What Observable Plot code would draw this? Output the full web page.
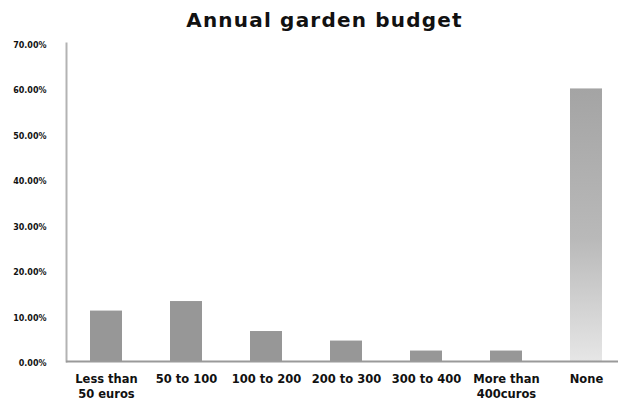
<!DOCTYPE html>
<html>
<head>
<meta charset="utf-8">
<script src="https://cdn.jsdelivr.net/npm/d3@7"></script>
<script src="https://cdn.jsdelivr.net/npm/@observablehq/plot@0.6"></script>
<style>
  html, body { margin: 0; padding: 0; background: #fff; }
  #chart { width: 618px; height: 403px; position: relative; }
  #title {
    height: 30px; line-height: 40px; padding-left: 31px; text-align: center;
    font-family: "DejaVu Sans", sans-serif; font-weight: bold; font-size: 20px;
    letter-spacing: 1.2px; color: #111;
  }
  #chart svg { overflow: visible; }
</style>
</head>
<body>
<div id="chart">
  <div id="title">Annual garden budget</div>
</div>
<script>
// Spending brackets and the share of respondents (%) in each
const categories = ["Less than\n50 euros", "50 to 100", "100 to 200", "200 to 300", "300 to 400", "More than\n400curos", "None"];
const shares = [11.1, 13.2, 6.6, 4.5, 2.3, 2.3, 60.0];
const yTicks = [0, 10, 20, 30, 40, 50, 60, 70];

const data = categories.map((category, i) => ({category, share: shares[i]}));
const paid = data.filter(d => d.category !== "None");
const none = data.filter(d => d.category === "None");

// Vertical fade used for the "None" bar
const gradient = () => {
  const ns = "http://www.w3.org/2000/svg";
  const defs = document.createElementNS(ns, "defs");
  defs.innerHTML = `<linearGradient id="fade" x1="0" y1="0" x2="0" y2="1">
      <stop offset="0%" stop-color="#a4a4a4"/>
      <stop offset="55%" stop-color="#b9b9b9"/>
      <stop offset="100%" stop-color="#e6e6e6"/>
    </linearGradient>`;
  return defs;
};

const plot = Plot.plot({
  width: 618,
  height: 373,
  marginTop: 13,
  marginBottom: 42,
  marginLeft: 66,
  marginRight: 0,
  style: {fontFamily: "DejaVu Sans, sans-serif", background: "transparent", overflow: "visible"},
  x: {domain: categories, range: [66, 626], paddingInner: 0.6, paddingOuter: 0.3},
  y: {domain: [0, 70]},
  marks: [
    gradient,
    Plot.frame({anchor: "left", stroke: "#b3b3b3", strokeWidth: 2}),
    Plot.barY(paid, {x: "category", y: "share", fill: "#979797"}),
    Plot.barY(none, {x: "category", y: "share", fill: "url(#fade)"}),
    Plot.ruleY([0], {stroke: "#9a9a9a", strokeWidth: 2}),
    Plot.axisY({
      ticks: yTicks, tickSize: 0, tickPadding: 20, dy: 2,
      tickFormat: d => d.toFixed(2) + "%",
      fontSize: 8, fontWeight: "bold", fill: "#111", label: null
    }),
    Plot.axisX({
      tickSize: 0, tickPadding: 11, lineHeight: 1.3,
      fontSize: 11.5, fontWeight: "bold", fill: "#111", label: null
    })
  ]
});

document.getElementById("chart").appendChild(plot);
</script>
</body>
</html>
